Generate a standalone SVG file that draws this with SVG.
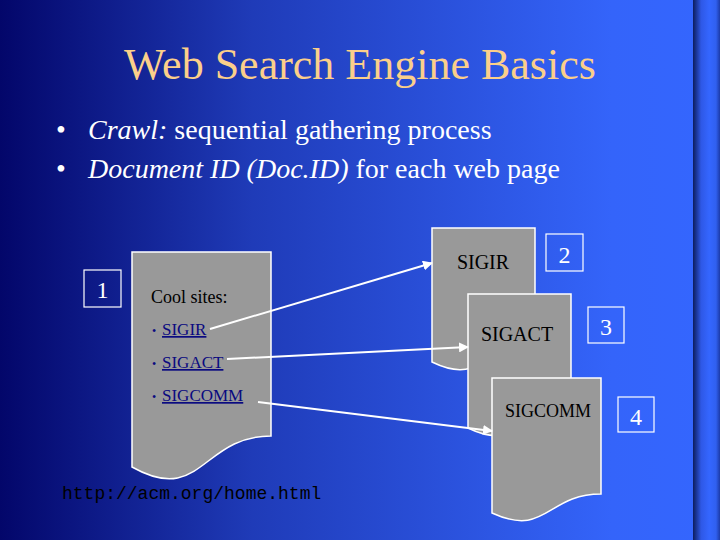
<svg xmlns="http://www.w3.org/2000/svg" width="720" height="540" viewBox="0 0 720 540">
<defs>
<linearGradient id="bg" x1="0" y1="0" x2="720" y2="0" gradientUnits="userSpaceOnUse">
<stop offset="0" stop-color="#03066a"/>
<stop offset="0.35" stop-color="#1f3bb8"/>
<stop offset="0.85" stop-color="#3464fa"/>
<stop offset="1" stop-color="#3466ff"/>
</linearGradient>
<linearGradient id="bar" x1="693" y1="0" x2="720" y2="0" gradientUnits="userSpaceOnUse">
<stop offset="0" stop-color="#0c1c5e"/>
<stop offset="0.3" stop-color="#2e58e6"/>
<stop offset="0.6" stop-color="#3466ff"/>
<stop offset="0.85" stop-color="#3060f0"/>
<stop offset="1" stop-color="#1c3aa8"/>
</linearGradient>
<marker id="ah" viewBox="0 0 10 10" refX="9" refY="5" markerWidth="5" markerHeight="5" orient="auto" markerUnits="strokeWidth">
<path d="M0,0 L10,5 L0,10 Z" fill="#ffffff"/>
</marker>
</defs>
<style>
.serif{font-family:'Liberation Serif',serif}
.doc{fill:#999999;stroke:#ffffff;stroke-width:1.5}
.box{fill:none;stroke:#ffffff;stroke-width:1.2}
.num{font-family:'Liberation Serif',serif;font-size:24px;fill:#ffffff;text-anchor:middle}
.dt{font-family:'Liberation Serif',serif;fill:#000000;text-anchor:middle}
.link{font-family:'Liberation Serif',serif;font-size:17px;fill:#0a0a80;text-decoration:underline}
.bul{font-family:'Liberation Serif',serif;font-size:12px;fill:#0a0a80}
.body{font-family:'Liberation Serif',serif;font-size:28px;fill:#ffffff}
.conn{stroke:#ffffff;stroke-width:2;fill:none;marker-end:url(#ah)}
</style>
<rect x="0" y="0" width="720" height="540" fill="url(#bg)"/>
<rect x="693" y="0" width="27" height="540" fill="url(#bar)"/>

<g id="title">
<text class="serif" x="360" y="79" font-size="44" fill="#fbcf8a" text-anchor="middle">Web Search Engine Basics</text>
</g>

<g id="bullets">
<text class="body" x="56" y="139">•</text>
<text class="body" x="88" y="139"><tspan font-style="italic">Crawl:</tspan> sequential gathering process</text>
<text class="body" x="56" y="178">•</text>
<text class="body" x="88" y="178"><tspan font-style="italic">Document ID (Doc.ID)</tspan> for each web page</text>
</g>

<g id="doc1">
<path class="doc" d="M132,252 H271 V436 C201.5,436 201.5,506 132,467 Z"/>
<text class="serif" x="151" y="303" font-size="18" fill="#000000">Cool sites:</text>
<text class="bul" x="152" y="335">•</text>
<text class="link" x="162" y="335">SIGIR</text>
<text class="bul" x="152" y="368">•</text>
<text class="link" x="162" y="368">SIGACT</text>
<text class="bul" x="152" y="401">•</text>
<text class="link" x="162" y="401">SIGCOMM</text>
<text x="62" y="499" font-family="'Liberation Mono', monospace" font-size="18" fill="#000000">http://acm.org/home.html</text>
</g>

<g id="label1">
<rect class="box" x="84" y="270" width="37" height="37"/>
<text class="num" x="102.5" y="298">1</text>
</g>

<g id="doc2">
<path class="doc" d="M432,228 H535 V343 C483.5,343 483.5,387 432,362 Z"/>
<text class="dt" x="483" y="269" font-size="20">SIGIR</text>
</g>
<g id="label2">
<rect class="box" x="546" y="234" width="37" height="37"/>
<text class="num" x="564.5" y="263">2</text>
</g>

<g id="doc3">
<path class="doc" d="M468,294 H571 V409 C519.5,409 519.5,453 468,428 Z"/>
<text class="dt" x="517" y="341" font-size="20">SIGACT</text>
</g>
<g id="label3">
<rect class="box" x="588" y="307" width="36" height="36"/>
<text class="num" x="606" y="335">3</text>
</g>

<g id="doc4">
<path class="doc" d="M492,378 H601 V494 C546.5,494 546.5,538 492,513 Z"/>
<text class="dt" x="548" y="417" font-size="18">SIGCOMM</text>
</g>
<g id="label4">
<rect class="box" x="618" y="397" width="36" height="35"/>
<text class="num" x="636" y="425">4</text>
</g>

<g id="connectors">
<line class="conn" x1="210" y1="329" x2="432" y2="263"/>
<line class="conn" x1="227" y1="359" x2="468" y2="347"/>
<line class="conn" x1="258" y1="402" x2="492" y2="431"/>
</g>
</svg>
